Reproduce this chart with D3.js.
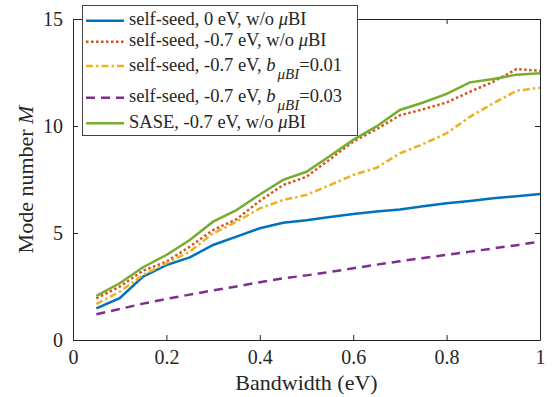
<!DOCTYPE html>
<html>
<head>
<meta charset="utf-8">
<script src="https://cdn.jsdelivr.net/npm/d3@7"></script>
<style>
  body { margin: 0; background: #fff; }
</style>
</head>
<body>
<div id="chart"></div>
<script>
// bandwidth (eV)
const bandwidth = [0.05, 0.1, 0.15, 0.2, 0.25, 0.3, 0.35, 0.4, 0.45, 0.5,
  0.55, 0.6, 0.65, 0.7, 0.75, 0.8, 0.85, 0.9, 0.95, 1.0];

// mode number M for each case
const selfSeed0 = [1.48, 1.95, 2.96, 3.5, 3.86, 4.44, 4.83, 5.22, 5.48, 5.6,
  5.75, 5.89, 6.0, 6.1, 6.25, 6.39, 6.5, 6.62, 6.72, 6.82];
const selfSeed07 = [1.95, 2.49, 3.24, 3.66, 4.36, 5.14, 5.64, 6.5, 7.24, 7.63,
  8.44, 9.27, 9.85, 10.5, 10.78, 11.1, 11.6, 12.07, 12.66, 12.58];
const selfSeedB001 = [1.68, 2.26, 3.04, 3.58, 4.13, 4.98, 5.53, 6.15, 6.54, 6.78,
  7.24, 7.71, 8.05, 8.72, 9.16, 9.66, 10.43, 11.06, 11.65, 11.79];
const selfSeedB003 = [1.2, 1.45, 1.7, 1.92, 2.12, 2.32, 2.5, 2.7, 2.88, 3.02,
  3.18, 3.35, 3.52, 3.68, 3.83, 3.98, 4.13, 4.28, 4.43, 4.6];
const sase07 = [2.06, 2.65, 3.4, 3.97, 4.67, 5.53, 6.07, 6.8, 7.48, 7.86,
  8.6, 9.35, 9.98, 10.75, 11.1, 11.5, 12.04, 12.2, 12.4, 12.46];

const xTicks = [0, 0.2, 0.4, 0.6, 0.8, 1];
const yTicks = [0, 5, 10, 15];

const series = [
  { values: selfSeed0, color: '#0072BD', dash: null },
  { values: selfSeed07, color: '#D95319', dash: '2.5,2.5' },
  { values: selfSeedB001, color: '#EDB120', dash: '7,3,2.5,3' },
  { values: selfSeedB003, color: '#7E2F8E', dash: '9,6' },
  { values: sase07, color: '#77AC30', dash: null }
];

const FONT = 'Liberation Serif';
const W = 552, H = 397;
const margin = { top: 19, right: 12, bottom: 57, left: 73 };
const width = W - margin.left - margin.right;
const height = H - margin.top - margin.bottom;

const svg = d3.select('#chart').append('svg')
  .attr('width', W)
  .attr('height', H)
  .attr('font-family', FONT);

const g = svg.append('g')
  .attr('transform', `translate(${margin.left}, ${margin.top})`);

const xScale = d3.scaleLinear().domain([0, 1]).range([0, width]);
const yScale = d3.scaleLinear().domain([0, 15]).range([height, 0]);

// axes, ticks pointing inward like matlab
const styleAxis = sel => {
  sel.attr('font-family', FONT).attr('font-size', 20);
  sel.select('.domain').attr('stroke', '#262626').attr('stroke-width', 1);
  sel.selectAll('.tick line').attr('stroke', '#262626');
  sel.selectAll('text').attr('fill', '#262626');
};

g.append('g')
  .attr('transform', `translate(0, ${height})`)
  .call(d3.axisBottom(xScale).tickValues(xTicks).tickFormat(d3.format('')).tickSize(-5).tickSizeOuter(0).tickPadding(10))
  .call(styleAxis);
g.append('g')
  .call(d3.axisTop(xScale).tickValues(xTicks).tickFormat('').tickSize(-5).tickSizeOuter(0))
  .call(styleAxis);
g.append('g')
  .call(d3.axisLeft(yScale).tickValues(yTicks).tickSize(-5).tickSizeOuter(0).tickPadding(10))
  .call(styleAxis);
g.append('g')
  .attr('transform', `translate(${width}, 0)`)
  .call(d3.axisRight(yScale).tickValues(yTicks).tickFormat('').tickSize(-5).tickSizeOuter(0))
  .call(styleAxis);

// axis titles
g.append('text')
  .attr('x', width / 2)
  .attr('y', height + 49.5)
  .attr('text-anchor', 'middle')
  .attr('font-size', 22)
  .attr('fill', '#262626')
  .text('Bandwidth (eV)');

const yTitle = g.append('text')
  .attr('transform', `translate(${-40.5}, ${height / 2}) rotate(-90)`)
  .attr('text-anchor', 'middle')
  .attr('font-size', 22)
  .attr('fill', '#262626');
yTitle.append('tspan').text('Mode number ');
yTitle.append('tspan').attr('font-style', 'italic').text('M');

// lines
const line = d3.line()
  .x((d, i) => xScale(bandwidth[i]))
  .y(d => yScale(d));

g.selectAll('.series')
  .data(series)
  .enter()
  .append('path')
  .attr('class', 'series')
  .attr('fill', 'none')
  .attr('stroke', d => d.color)
  .attr('stroke-width', 2.5)
  .attr('stroke-dasharray', d => d.dash)
  .attr('d', d => line(d.values));

// legend
const legend = svg.append('g');
legend.append('rect')
  .attr('x', 82.5).attr('y', 5.5)
  .attr('width', 275).attr('height', 130)
  .attr('fill', '#fff')
  .attr('stroke', '#444')
  .attr('stroke-width', 1);

const rowY = [20.7, 41.7, 66, 97.7, 123.3];
const labels = [
  [['self-seed, 0 eV, w/o '], ['μ', 'i'], ['BI']],
  [['self-seed, -0.7 eV, w/o '], ['μ', 'i'], ['BI']],
  [['self-seed, -0.7 eV, '], ['b', 'i'], ['μBI', 'sub'], ['=0.01', 'up']],
  [['self-seed, -0.7 eV, '], ['b', 'i'], ['μBI', 'sub'], ['=0.03', 'up']],
  [['SASE, -0.7 eV, w/o '], ['μ', 'i'], ['BI']]
];

series.forEach((s, i) => {
  legend.append('line')
    .attr('x1', 86).attr('x2', 124)
    .attr('y1', rowY[i]).attr('y2', rowY[i])
    .attr('stroke', s.color)
    .attr('stroke-width', 2.5)
    .attr('stroke-dasharray', s.dash);
  const t = legend.append('text')
    .attr('x', 129)
    .attr('y', rowY[i] + 4.5)
    .attr('font-size', 18.5)
    .attr('fill', '#262626');
  labels[i].forEach(([str, kind]) => {
    const ts = t.append('tspan').text(str);
    if (kind === 'i') ts.attr('font-style', 'italic');
    if (kind === 'sub') ts.attr('font-style', 'italic').attr('font-size', 15).attr('dx', 2).attr('dy', 8);
    if (kind === 'up') ts.attr('dy', -8);
  });
});
</script>
</body>
</html>
